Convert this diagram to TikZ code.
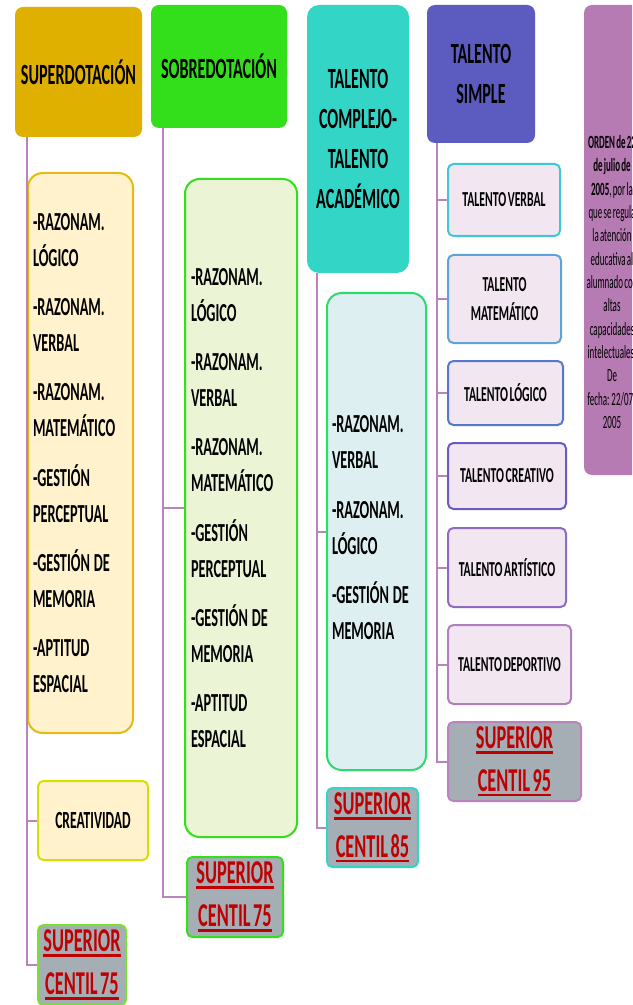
\documentclass[tikz,border=0pt]{standalone}
\usepackage{fontspec}
\setmainfont{Carlito}[FakeStretch=0.55, WordSpace=0.6]
\newfontfamily\ordenfont{Carlito}[FakeStretch=0.48, WordSpace=0.6]
\usetikzlibrary{positioning}

\definecolor{goldhead}{RGB}{224,176,0}
\definecolor{greenhead}{RGB}{51,222,26}
\definecolor{tealhead}{RGB}{51,214,198}
\definecolor{indigohead}{RGB}{91,91,192}
\definecolor{ordenpurple}{RGB}{183,123,179}
\definecolor{creamfill}{RGB}{255,242,204}
\definecolor{creamline}{RGB}{230,186,20}
\definecolor{limeline}{RGB}{212,224,0}
\definecolor{palegreen}{RGB}{235,245,213}
\definecolor{paleblue}{RGB}{222,239,242}
\definecolor{mintline}{RGB}{43,219,110}
\definecolor{talentfill}{RGB}{242,230,240}
\definecolor{centilgray}{RGB}{165,174,181}
\definecolor{centilred}{RGB}{192,0,0}
\definecolor{centilgreen}{RGB}{125,224,48}
\definecolor{branchline}{RGB}{186,130,190}
\definecolor{tvline}{RGB}{62,199,214}
\definecolor{tmline}{RGB}{91,163,217}
\definecolor{tlline}{RGB}{85,119,204}
\definecolor{tcline}{RGB}{107,91,192}
\definecolor{taline}{RGB}{140,107,192}
\definecolor{tdline}{RGB}{176,127,192}

\newcommand{\lineunder}[1]{\setbox0=\hbox{#1}\rlap{\rule[-4pt]{\wd0}{2.2pt}}\box0}
\newcommand{\gde}{-GESTIÓN\hspace{3pt}DE}

\tikzset{every picture/.style={line width=0.75pt}}
\tikzset{
  bw/.style={minimum width=#1*0.75pt, inner sep=0pt},
  bh/.style={minimum height=#1*0.75pt},
  head/.style={rounded corners=6pt, align=center, text=black,
    font=\bfseries\fontsize{22}{30}\selectfont},
  listbox/.style={rounded corners=11pt, line width=1.5pt, align=left,
    font=\bfseries\fontsize{19.5}{27}\selectfont},
  talent/.style={rounded corners=4pt, fill=talentfill, line width=1.5pt, align=center,
    font=\bfseries\fontsize{16}{22}\selectfont},
  centil/.style={rounded corners=4pt, fill=centilgray, line width=1.5pt, align=center,
    text=centilred, font=\bfseries\fontsize{25}{32}\selectfont},
  branch/.style={draw=branchline, line width=1.5pt},
}

\begin{document}
\begin{tikzpicture}[x=0.75pt,y=0.75pt,yscale=-1,xscale=1]
\useasboundingbox (0,0) rectangle (632,1005);
\clip (0,0) rectangle (632,1005);

% column 1
\node (hSuper) [head, bw=127, bh=130, fill=goldhead] at (78.5,72) {SUPERDOTACIÓN};
\node (rzA) [listbox, bw=105, bh=560, text width=95*0.75pt, fill=creamfill, draw=creamline] at (80.5,453)
  {-RAZONAM.\\LÓGICO\\[10pt]-RAZONAM.\\VERBAL\\[10pt]-RAZONAM.\\MATEMÁTICO\\[10pt]-GESTIÓN\\PERCEPTUAL\\[10pt]\gde\\MEMORIA\\[10pt]-APTITUD\\ESPACIAL};
\node (creA) [talent, bw=110, bh=79, fill=creamfill, draw=limeline, font=\bfseries\fontsize{18.5}{22}\selectfont] at (93,820.5) {CREATIVIDAD};
\node (supA) [centil, bw=88, bh=80, draw=centilgreen] at (82,965) {\lineunder{SUPERIOR}\\\lineunder{CENTIL 75}};

% column 2
\node (hSobre) [head, bw=136, bh=123, fill=greenhead] at (219,66.5) {SOBREDOTACIÓN};
\node (rzB) [listbox, bw=112, bh=658, text width=100*0.75pt, fill=palegreen, draw=greenhead] at (241,508)
  {-RAZONAM.\\LÓGICO\\[10pt]-RAZONAM.\\VERBAL\\[10pt]-RAZONAM.\\MATEMÁTICO\\[10pt]-GESTIÓN\\PERCEPTUAL\\[10pt]\gde\\MEMORIA\\[10pt]-APTITUD\\ESPACIAL};
\node (supB) [centil, bw=96, bh=80, draw=greenhead] at (235,897) {\lineunder{SUPERIOR}\\\lineunder{CENTIL 75}};

% column 3
\node (hCompl) [head, bw=102, bh=268, fill=tealhead, rounded corners=9pt] at (358,139) {TALENTO\\COMPLEJO-\\TALENTO\\ACADÉMICO};
\node (rzC) [listbox, bw=99, bh=477, text width=89*0.75pt, fill=paleblue, draw=mintline] at (376.5,531.5)
  {-RAZONAM.\\VERBAL\\[10pt]-RAZONAM.\\LÓGICO\\[10pt]\gde\\MEMORIA\rule[-6pt]{0pt}{6pt}};
\node (supC) [centil, bw=91, bh=79, draw=tealhead] at (372.5,827.5) {\lineunder{SUPERIOR}\\\lineunder{CENTIL 85}};

% column 4
\node (hSimple) [head, bw=108, bh=138, fill=indigohead] at (481,74) {TALENTO\\SIMPLE};
\node (tVerbal) [talent, bw=112, bh=72, draw=tvline] at (504,200) {TALENTO VERBAL};
\node (tMat) [talent, bw=113, bh=88, draw=tmline] at (504.5,299) {TALENTO\\MATEMÁTICO};
\node (tLog) [talent, bw=115, bh=64, draw=tlline] at (505.5,393) {TALENTO LÓGICO};
\node (tCre) [talent, bw=118, bh=66, draw=tcline] at (507,476) {TALENTO CREATIVO};
\node (tArt) [talent, bw=118, bh=79, draw=taline] at (507,567.5) {TALENTO ARTÍSTICO};
\node (tDep) [talent, bw=123, bh=79, draw=tdline] at (509.5,664.5) {TALENTO DEPORTIVO};
\node (supD) [centil, bw=133, bh=79, draw=branchline] at (514.5,761.5) {\lineunder{SUPERIOR}\\\lineunder{CENTIL 95}};

% column 5
\node (orden) [bw=58, bh=470, fill=ordenpurple, rounded corners=6pt] at (613,240) {};
\node (ordenTxt) [align=center, font=\ordenfont\fontsize{14}{17.5}\selectfont] at (612,282)
  {\textbf{ORDEN de 22}\\\textbf{de julio de}\\\textbf{2005}, por la\\que se regula\\la atención\\educativa al\\alumnado con\\altas\\capacidades\\intelectuales.\\De\\fecha: 22/07/\\2005};

% trunks and branches
\coordinate (tA) at ([xshift=12*0.75pt]hSuper.south west);
\coordinate (tB) at ([xshift=12*0.75pt]hSobre.south west);
\coordinate (tC) at ([xshift=10*0.75pt]hCompl.south west);
\coordinate (tD) at ([xshift=10*0.75pt]hSimple.south west);

\draw[branch] (tA) |- (supA.west);
\draw[branch] (tA |- rzA.west) -- (rzA.west);
\draw[branch] (tA |- creA.west) -- (creA.west);

\draw[branch] (tB) |- (supB.west);
\draw[branch] (tB |- rzB.west) -- (rzB.west);

\draw[branch] (tC) |- (supC.west);
\draw[branch] (tC |- rzC.west) -- (rzC.west);

\draw[branch] (tD) |- (supD.west);
\foreach \t in {tVerbal,tMat,tLog,tCre,tArt,tDep}
  \draw[branch] (tD |- \t.west) -- (\t.west);

\end{tikzpicture}
\end{document}
